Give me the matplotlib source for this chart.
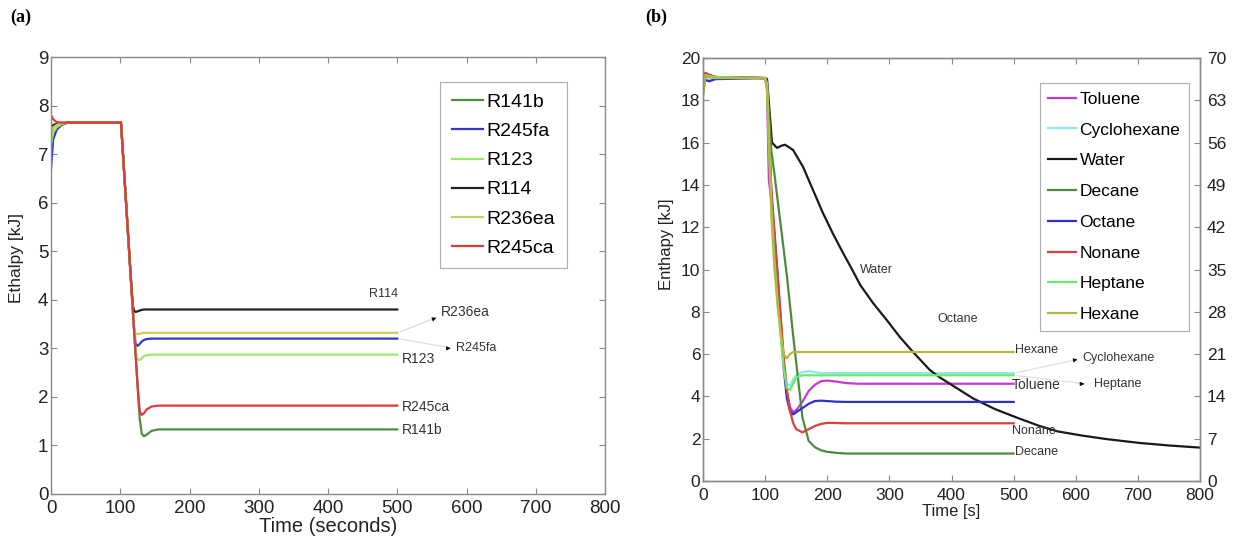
import matplotlib
matplotlib.use("Agg")
import matplotlib.pyplot as plt

plt.rcParams['font.family'] = ['Liberation Sans', 'DejaVu Sans']

# ---------------- Panel (a): refrigerants ----------------
t_a = [0, 3, 8, 15, 25, 101, 110, 115, 118, 120, 122, 125, 128, 131, 134, 138, 145, 155, 500]
r141b = [7.3, 7.45, 7.55, 7.62, 7.65, 7.65, 5.62, 4.49, 3.81, 3.36, 2.9, 2.23, 1.55, 1.24, 1.19, 1.22, 1.3, 1.33, 1.33]
r245fa = [6.7, 7.3, 7.5, 7.6, 7.65, 7.65, 5.62, 4.49, 3.81, 3.36, 3.1, 3.05, 3.09, 3.14, 3.17, 3.19, 3.2, 3.2, 3.2]
r123 = [7.2, 7.45, 7.55, 7.62, 7.65, 7.65, 5.62, 4.49, 3.81, 3.36, 2.95, 2.77, 2.76, 2.8, 2.84, 2.86, 2.87, 2.87, 2.87]
r114 = [7.5, 7.6, 7.62, 7.64, 7.65, 7.65, 5.62, 4.49, 3.9, 3.77, 3.75, 3.76, 3.78, 3.79, 3.8, 3.8, 3.8, 3.8, 3.8]
r236ea = [7.4, 7.55, 7.6, 7.64, 7.65, 7.65, 5.62, 4.49, 3.81, 3.4, 3.3, 3.29, 3.3, 3.31, 3.32, 3.32, 3.32, 3.32, 3.32]
r245ca = [7.8, 7.72, 7.66, 7.65, 7.65, 7.65, 5.62, 4.49, 3.81, 3.36, 2.9, 2.23, 1.7, 1.63, 1.66, 1.74, 1.8, 1.82, 1.82]

names_a = ['R141b', 'R245fa', 'R123', 'R114', 'R236ea', 'R245ca']
series_a = [r141b, r245fa, r123, r114, r236ea, r245ca]
colors_a = ['#4a9040', '#3434d0', '#96ec66', '#222222', '#cccc55', '#dd3a3a']

# ---------------- Panel (b): hydrocarbons and water ----------------
t_b = [0, 4, 10, 20, 100, 103, 106, 110, 115, 120, 125, 130, 135, 140, 145, 150,
       160, 170, 180, 190, 200, 215, 230, 250, 500]
toluene = [19.0, 19.2, 19.15, 19.1, 19.05, 18.5, 14.2, 13.2, 11.6, 9.7, 7.6, 5.6, 4.2, 3.5, 3.25, 3.35,
           3.75, 4.25, 4.55, 4.72, 4.75, 4.7, 4.63, 4.6, 4.6]
cyclohexane = [18.9, 18.95, 19.0, 19.05, 19.05, 18.8, 16.0, 13.5, 11.0, 9.0, 7.2, 5.6, 4.6, 4.5, 4.8, 5.0,
               5.15, 5.2, 5.15, 5.1, 5.1, 5.1, 5.1, 5.1, 5.1]
decane = [18.3, 19.1, 19.15, 19.1, 19.05, 18.7, 17.5, 15.6, 14.5, 13.3, 12.1, 10.9, 9.7, 8.3, 6.9, 5.6,
          3.0, 1.9, 1.6, 1.45, 1.38, 1.33, 1.3, 1.3, 1.3]
octane = [19.1, 18.95, 18.9, 19.0, 19.05, 18.8, 16.5, 13.5, 11.5, 9.5, 7.3, 5.3, 3.9, 3.3, 3.15, 3.25,
          3.45, 3.65, 3.78, 3.8, 3.78, 3.75, 3.74, 3.74, 3.74]
nonane = [19.2, 19.3, 19.2, 19.1, 19.05, 18.8, 16.5, 13.8, 11.8, 9.8, 7.8, 5.8, 4.3, 3.3, 2.75, 2.45,
          2.3, 2.45, 2.6, 2.7, 2.75, 2.74, 2.73, 2.73, 2.73]
heptane = [18.5, 19.2, 19.15, 19.1, 19.05, 18.8, 16.5, 13.0, 10.5, 8.5, 6.8, 5.3, 4.4, 4.3, 4.6, 4.9,
           5.0, 5.0, 5.0, 5.0, 5.0, 5.0, 5.0, 5.0, 5.0]
hexane = [18.2, 19.2, 19.1, 19.05, 19.05, 18.5, 16.0, 12.5, 10.0, 8.3, 7.0, 6.0, 5.8, 6.0, 6.1, 6.1,
          6.1, 6.1, 6.1, 6.1, 6.1, 6.1, 6.1, 6.1, 6.1]

t_water = [0, 4, 10, 20, 100, 103, 111, 119, 126, 132, 145, 161, 177, 193, 209, 225, 240, 253, 274,
           296, 317, 338, 365, 381, 408, 435, 470, 505, 540, 570, 610, 650, 703, 750, 800]
water = [19.0, 19.25, 19.2, 19.1, 19.05, 19.0, 16.0, 15.75, 15.85, 15.9, 15.65, 14.85, 13.76, 12.67,
         11.7, 10.8, 10.0, 9.27, 8.4, 7.6, 6.8, 6.1, 5.25, 4.9, 4.4, 3.9, 3.4, 3.0, 2.62, 2.35, 2.15,
         1.98, 1.8, 1.68, 1.58]

names_b = ['Toluene', 'Cyclohexane', 'Water', 'Decane', 'Octane', 'Nonane', 'Heptane', 'Hexane']
colors_b = ['#c03cd0', '#8ee8ee', '#1a1a1a', '#4e8a3e', '#3030c8', '#d84040', '#6ee86e', '#b8b840']

x_ticks = list(range(0, 801, 100))
ya_ticks = list(range(0, 10))
yb_ticks = list(range(0, 21, 2))
yb_right_ticks = list(range(0, 71, 7))

fig = plt.figure(figsize=(12.36, 5.42), dpi=100)
spine_col = '#8a8a8a'
lab_col = '#333333'


def style_axes(ax, fs):
    for s in ax.spines.values():
        s.set_color(spine_col)
        s.set_linewidth(1.0)
    ax.tick_params(direction='in', top=True, right=True, length=4, width=0.8,
                   color=spine_col, labelsize=fs, labelcolor='#222222', pad=2)


# ---- panel (a) ----
axa = fig.add_axes([0.0413, 0.0886, 0.4482, 0.8062])
for name, vals, col in zip(names_a, series_a, colors_a):
    axa.plot(t_a, vals, color=col, lw=1.6, label=name)
axa.set_xlim(0, 800)
axa.set_ylim(0, 9)
axa.set_xticks(x_ticks)
axa.set_yticks(ya_ticks)
style_axes(axa, 13.5)
axa.tick_params(axis='x', pad=4)
axa.set_xlabel('Time (seconds)', fontsize=14.5, labelpad=0.5, color='#222222')
axa.set_ylabel('Ethalpy [kJ]', fontsize=12.5, color='#222222')
axa.yaxis.set_label_coords(-0.048, 0.54)
leg = axa.legend(loc='upper right', bbox_to_anchor=(0.931, 0.943), borderaxespad=0,
                 fontsize=14, handlelength=1.6, handletextpad=0.2, labelspacing=0.59,
                 fancybox=False, edgecolor='#999999', borderpad=0.6)
leg.get_frame().set_linewidth(0.8)

ann_fs = 9
axa.text(480, 4.12, 'R114', fontsize=ann_fs, color=lab_col, ha='center', va='center')
axa.text(507, 2.78, 'R123', fontsize=ann_fs + 1, color=lab_col, va='center')
axa.text(507, 1.79, 'R245ca', fontsize=ann_fs + 1, color=lab_col, va='center')
axa.text(507, 1.32, 'R141b', fontsize=ann_fs + 1, color=lab_col, va='center')
axa.annotate('', xy=(559, 3.65), xytext=(501, r236ea[-1]),
             arrowprops=dict(arrowstyle='-', color='#d8d8d8', lw=0.8))
axa.annotate('', xy=(560, 3.65), xytext=(-5, -2), textcoords='offset points',
             arrowprops=dict(arrowstyle='-|>', color='k', lw=0.5, mutation_scale=6))
axa.text(563, 3.74, 'R236ea', fontsize=ann_fs + 1, color=lab_col, va='center')
axa.annotate('', xy=(580, 3.0), xytext=(501, r245fa[-1]),
             arrowprops=dict(arrowstyle='-', color='#d8d8d8', lw=0.8))
axa.annotate('', xy=(581, 3.0), xytext=(-5, 0), textcoords='offset points',
             arrowprops=dict(arrowstyle='-|>', color='k', lw=0.5, mutation_scale=6))
axa.text(585, 3.0, 'R245fa', fontsize=ann_fs, color=lab_col, va='center')

# ---- panel (b) ----
axb = fig.add_axes([0.5688, 0.1125, 0.4021, 0.7805])
series_b = [toluene, cyclohexane, None, decane, octane, nonane, heptane, hexane]
for name, vals, col in zip(names_b, series_b, colors_b):
    if name == 'Water':
        axb.plot(t_water, water, color=col, lw=1.6, label=name)
    else:
        axb.plot(t_b, vals, color=col, lw=1.6, label=name)
axb.set_xlim(0, 800)
axb.set_ylim(0, 20)
axb.set_xticks(x_ticks)
axb.set_yticks(yb_ticks)
style_axes(axb, 12.5)
axb.tick_params(right=False)
axb.tick_params(axis='x', pad=5)
axb.set_xlabel('Time [s]', fontsize=12, labelpad=0.5, color='#222222')
axb.set_ylabel('Enthapy [kJ]', fontsize=12, color='#222222')
axb.yaxis.set_label_coords(-0.058, 0.56)

axr = axb.twinx()
axr.set_ylim(0, 70)
axr.set_yticks(yb_right_ticks)
style_axes(axr, 12.5)
axr.tick_params(left=False, top=False, right=True, pad=5)

legb = axb.legend(loc='upper right', bbox_to_anchor=(0.978, 0.941), borderaxespad=0,
                  fontsize=12.5, handlelength=1.6, handletextpad=0.2, labelspacing=0.9,
                  fancybox=False, edgecolor='#999999', borderpad=0.5)
legb.get_frame().set_linewidth(0.8)

axb.text(253, 10.0, 'Water', fontsize=ann_fs, color=lab_col, va='center')
axb.text(377, 7.66, 'Octane', fontsize=ann_fs, color=lab_col, va='center')
axb.text(502, 6.2, 'Hexane', fontsize=ann_fs, color=lab_col, va='center')
axb.text(497, 4.54, 'Toluene', fontsize=ann_fs + 1, color=lab_col, va='center')
axb.text(497, 2.36, 'Nonane', fontsize=ann_fs, color=lab_col, va='center')
axb.text(502, 1.37, 'Decane', fontsize=ann_fs, color=lab_col, va='center')
axb.annotate('', xy=(606, 5.77), xytext=(501, cyclohexane[-1]),
             arrowprops=dict(arrowstyle='-', color='#dcdcdc', lw=0.8))
axb.annotate('', xy=(607, 5.77), xytext=(-5, -1), textcoords='offset points',
             arrowprops=dict(arrowstyle='-|>', color='k', lw=0.5, mutation_scale=6))
axb.text(611, 5.8, 'Cyclohexane', fontsize=ann_fs, color=lab_col, va='center')
axb.annotate('', xy=(617, 4.59), xytext=(501, heptane[-1]),
             arrowprops=dict(arrowstyle='-', color='#dcdcdc', lw=0.8))
axb.annotate('', xy=(618, 4.59), xytext=(-5, 0), textcoords='offset points',
             arrowprops=dict(arrowstyle='-|>', color='k', lw=0.5, mutation_scale=6))
axb.text(630, 4.59, 'Heptane', fontsize=ann_fs, color=lab_col, va='center')

# panel tags
fig.text(0.008, 0.968, '(a)', fontsize=13, fontweight='bold', family='Liberation Serif', va='center')
fig.text(0.522, 0.968, '(b)', fontsize=13, fontweight='bold', family='Liberation Serif', va='center')

fig.savefig('out.png', dpi=100, facecolor='white')
